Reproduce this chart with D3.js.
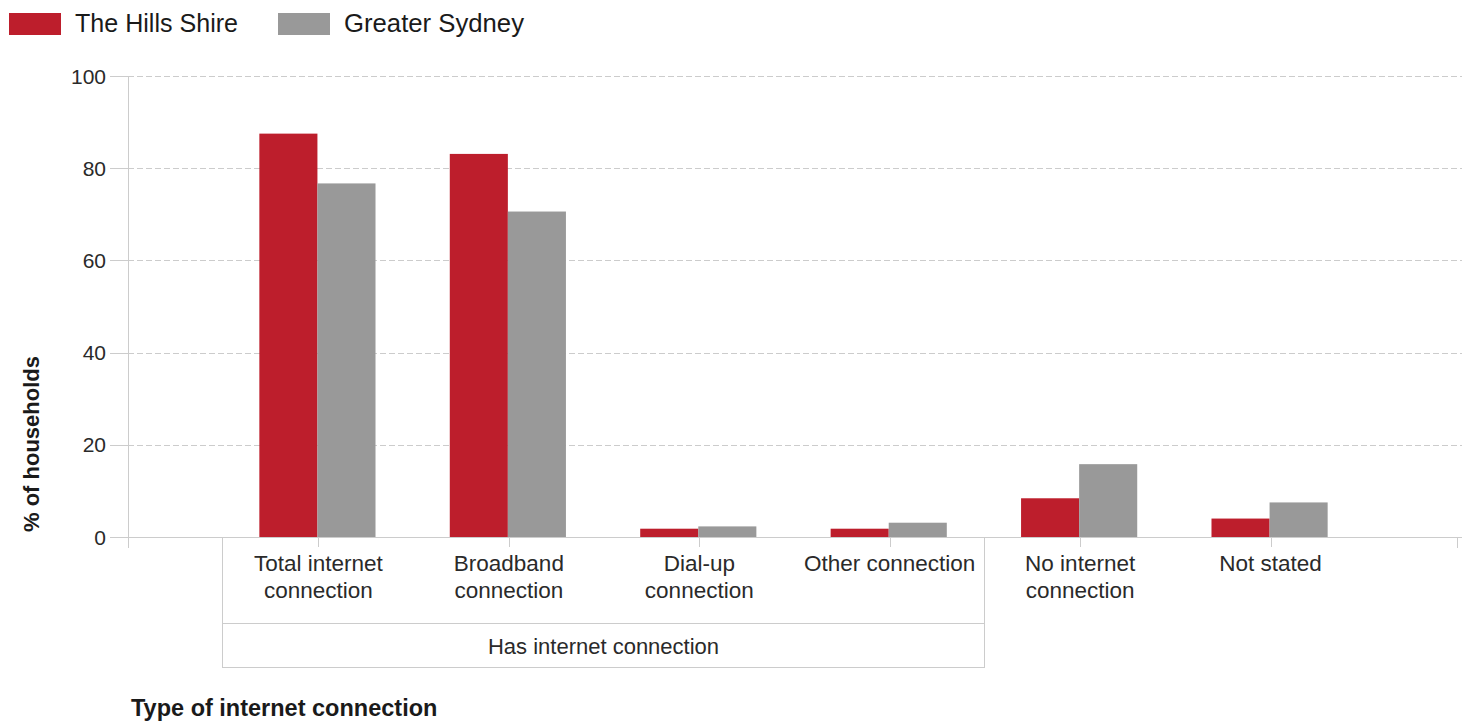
<!DOCTYPE html>
<html>
<head>
<meta charset="utf-8">
<script src="https://cdn.jsdelivr.net/npm/d3@7"></script>
<style>
  html, body { margin: 0; padding: 0; background: #fff; }
  svg { display: block; font-family: "Liberation Sans", Arial, sans-serif; }
</style>
</head>
<body>
<svg id="chart" width="1471" height="722"></svg>
<script>
// ---- data ----
const categories = [
  ["Total internet", "connection"],
  ["Broadband", "connection"],
  ["Dial-up", "connection"],
  ["Other connection"],
  ["No internet", "connection"],
  ["Not stated"]
];
const seriesNames = ["The Hills Shire", "Greater Sydney"];
const hillsShire = [87.5, 83.1, 1.8, 1.8, 8.4, 4.0];
const greaterSydney = [76.7, 70.6, 2.3, 3.1, 15.8, 7.5];
const yTicks = [0, 20, 40, 60, 80, 100];
const groupLabel = "Has internet connection";
const groupSpan = [0, 3]; // first and last category index in the group
const yTitle = "% of households";
const xTitle = "Type of internet connection";

const colors = ["#BD1E2C", "#999999"];
const seriesValues = [hillsShire, greaterSydney];

(function () {
// ---- layout ----
const svg = d3.select("#chart");
const pLeft = 128, pRight = 1461, pTop = 76, pBottom = 537;
const axisColor = "#cccccc";
const textColor = "#2a2a2a";

const catKeys = categories.map(c => c.join(" "));
const x0 = d3.scaleBand().domain(catKeys).range([pLeft, pRight]).paddingInner(0).paddingOuter(0.5);
const bw = x0.bandwidth();
const pairW = bw * 0.61;
const x1 = d3.scaleBand().domain(seriesNames).range([(bw - pairW) / 2 - 1, (bw + pairW) / 2 - 1]).padding(0);
const y = d3.scaleLinear().domain([0, 100]).range([pBottom, pTop]);

// gridlines
svg.append("g").selectAll("line").data(yTicks.filter(d => d > 0)).join("line")
  .attr("x1", pLeft).attr("x2", pRight + 1)
  .attr("y1", d => Math.round(y(d)) + 0.5).attr("y2", d => Math.round(y(d)) + 0.5)
  .attr("stroke", axisColor).attr("stroke-width", 1).attr("stroke-dasharray", "6,3");

// y tick marks
svg.append("g").selectAll("line").data(yTicks).join("line")
  .attr("x1", 110).attr("x2", pLeft)
  .attr("y1", d => Math.round(y(d)) + 0.5).attr("y2", d => Math.round(y(d)) + 0.5)
  .attr("stroke", axisColor);

// y tick labels
svg.append("g").selectAll("text").data(yTicks).join("text")
  .attr("x", 106).attr("y", d => y(d)).attr("dy", "0.36em")
  .attr("text-anchor", "end").attr("font-size", 21).attr("fill", textColor)
  .text(d => d);

// bars
const barG = svg.append("g");
seriesValues.forEach((vals, si) => {
  barG.append("g").selectAll("rect").data(vals).join("rect")
    .attr("x", (d, i) => x0(catKeys[i]) + x1(seriesNames[si]))
    .attr("width", x1.bandwidth())
    .attr("y", d => y(d))
    .attr("height", d => y(0) - y(d))
    .attr("fill", colors[si]);
});

// zero line and y axis line
svg.append("line").attr("x1", pLeft).attr("x2", pRight + 1)
  .attr("y1", pBottom + 0.5).attr("y2", pBottom + 0.5).attr("stroke", axisColor);
svg.append("line").attr("x1", pLeft + 0.5).attr("x2", pLeft + 0.5)
  .attr("y1", pTop).attr("y2", pBottom + 11).attr("stroke", axisColor);

// category center ticks
svg.append("g").selectAll("line").data(catKeys).join("line")
  .attr("x1", d => Math.round(x0(d) + bw / 2) + 0.5).attr("x2", d => Math.round(x0(d) + bw / 2) + 0.5)
  .attr("y1", pBottom).attr("y2", pBottom + 10).attr("stroke", axisColor);
// right end tick
svg.append("line").attr("x1", pRight - 3.5).attr("x2", pRight - 3.5)
  .attr("y1", pBottom).attr("y2", pBottom + 11).attr("stroke", axisColor);

// category labels
const catG = svg.append("g");
categories.forEach((lines, i) => {
  const cx = x0(catKeys[i]) + bw / 2;
  const t = catG.append("text")
    .attr("x", cx).attr("y", 571)
    .attr("text-anchor", "middle").attr("font-size", 22.5).attr("fill", textColor);
  lines.forEach((ln, j) => {
    t.append("tspan").attr("x", cx).attr("y", 571 + j * 27).text(ln);
  });
});

// group box
const gx1 = Math.round(x0(catKeys[groupSpan[0]])) - 0.5;
const gx2 = Math.round(x0(catKeys[groupSpan[1]]) + bw) - 0.5;
const boxG = svg.append("g").attr("stroke", axisColor).attr("fill", "none");
boxG.append("line").attr("x1", gx1).attr("x2", gx1).attr("y1", pBottom).attr("y2", 668);
boxG.append("line").attr("x1", gx2).attr("x2", gx2).attr("y1", pBottom).attr("y2", 668);
boxG.append("line").attr("x1", gx1).attr("x2", gx2).attr("y1", 623.5).attr("y2", 623.5);
boxG.append("line").attr("x1", gx1).attr("x2", gx2).attr("y1", 667.5).attr("y2", 667.5);
svg.append("text").attr("x", (gx1 + gx2) / 2).attr("y", 654)
  .attr("text-anchor", "middle").attr("font-size", 22).attr("fill", textColor)
  .text(groupLabel);

// axis titles
svg.append("text").attr("transform", "translate(39,444) rotate(-90)")
  .attr("text-anchor", "middle").attr("font-size", 22).attr("font-weight", "bold")
  .attr("fill", "#1a1a1a").text(yTitle);
svg.append("text").attr("x", 131).attr("y", 716)
  .attr("font-size", 23.5).attr("font-weight", "bold").attr("fill", "#1a1a1a").text(xTitle);

// legend
const legendX = [9, 278];
const legendTextW = [163, 180];
seriesNames.forEach((name, i) => {
  svg.append("rect").attr("x", legendX[i]).attr("y", 13).attr("width", 52).attr("height", 22)
    .attr("fill", colors[i]);
  svg.append("text").attr("x", legendX[i] + 66).attr("y", 32)
    .attr("font-size", 26).attr("fill", "#1a1a1a")
    .attr("textLength", legendTextW[i]).attr("lengthAdjust", "spacingAndGlyphs")
    .text(name);
});
})();
</script>
</body>
</html>
